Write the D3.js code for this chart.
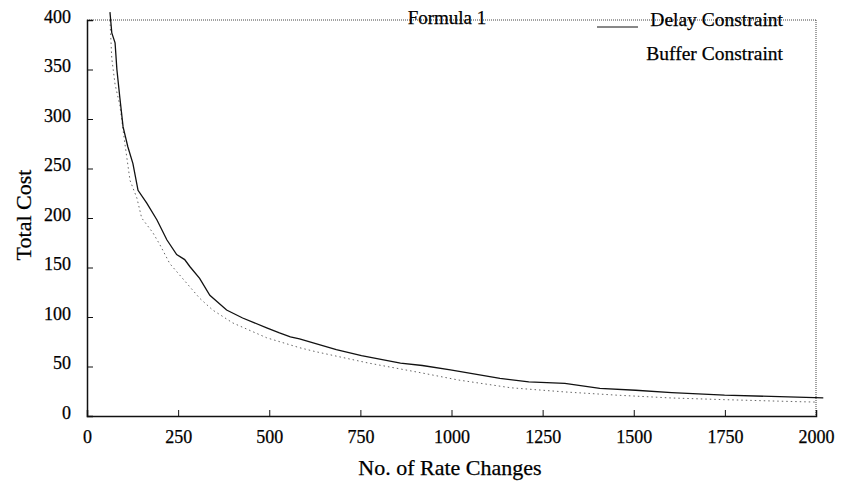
<!DOCTYPE html>
<html><head><meta charset="utf-8">
<script src="https://cdn.jsdelivr.net/npm/d3@7"></script>
<style>body{margin:0;background:#fff}svg{display:block}text{font-family:"Liberation Serif","Times New Roman",serif;fill:#000;stroke:#000;stroke-width:0.25px}</style>
</head><body><svg id="c" width="841" height="485"></svg>
<script>
const xTicks=[0,250,500,750,1000,1250,1500,1750,2000];
const yTicks=[0,50,100,150,200,250,300,350,400];
const delayX=[63,68,77,82,90,99,112,126,140,164,192,219,246,268,282,309,337,383,427,493,528,558,583,684,753,860,920,997,1133,1212,1311,1407,1505,1604,1749,1996,2020];
const delayY=[408,387,377,350,322,292,272,255,228,215,198,178,163,158,151,139,122,107,99,89,84,80,78,67,61,53.5,51,46.5,38,34.5,33,28,26,23.6,21,18.6,18.4];
const bufferX=[63,68,77,90,104,118,137,150,181,200,227,309,345,400,493,583,627,772,920,1018,1163,1311,1456,1604,1749,1897,2004];
const bufferY=[400,361,335,314,275,238,220,200,185,173,154,119,107,94,79,69,65,53.5,43.4,36.4,28.5,24.3,21,18.2,16.5,15,14];

const svg=d3.select("#c");
const L=87,R=816,T=20,B=416;
const x=d3.scaleLinear().domain([0,2000]).range([L,R]);
const y=d3.scaleLinear().domain([0,400]).range([B,T]);

svg.append("line").attr("x1",L).attr("x2",R).attr("y1",T).attr("y2",T).attr("stroke","#444").attr("stroke-width",1).attr("stroke-dasharray","1,1");
svg.append("line").attr("x1",R).attr("x2",R).attr("y1",T).attr("y2",B).attr("stroke","#444").attr("stroke-width",1).attr("stroke-dasharray","1,1");

const ax=svg.append("g").attr("transform",`translate(0,${B})`).call(d3.axisBottom(x).tickValues(xTicks).tickSize(-6).tickPadding(14).tickFormat(d3.format("d")));
ax.select(".domain").attr("stroke","#111").attr("stroke-width",1.5);
ax.selectAll(".tick line").attr("stroke","#111");
ax.selectAll("text").attr("font-size",18).style("font-family","Liberation Serif");
ax.selectAll(".tick").filter(d=>d===0||d===2000).select("line").remove();

const ay=svg.append("g").attr("transform",`translate(${L},0)`).call(d3.axisLeft(y).tickValues(yTicks).tickSize(-6).tickPadding(16).tickFormat(d3.format("d")));
ay.select(".domain").attr("stroke","#111").attr("stroke-width",1.5);
ay.selectAll(".tick line").attr("stroke","#111");
ay.selectAll("text").attr("font-size",18).attr("dy","0.12em").style("font-family","Liberation Serif");
ay.selectAll(".tick").filter(d=>d===0||d===400).select("line").remove();

const line=d3.line().x(d=>x(d[0])).y(d=>y(d[1]));
svg.append("path").datum(bufferX.map((v,i)=>[v,bufferY[i]])).attr("d",line).attr("fill","none").attr("stroke","#666").attr("stroke-width",1).attr("stroke-dasharray","1.5,3");
svg.append("path").datum(delayX.map((v,i)=>[v,delayY[i]])).attr("d",line).attr("fill","none").attr("stroke","#111").attr("stroke-width",1.3);

svg.append("text").attr("x",447).attr("y",24).attr("text-anchor","middle").attr("font-size",19).text("Formula 1");
svg.append("line").attr("x1",597).attr("x2",638).attr("y1",27).attr("y2",27).attr("stroke","#111").attr("stroke-width",1);
svg.append("text").attr("x",783).attr("y",26).attr("text-anchor","end").attr("font-size",19.5).text("Delay Constraint");
svg.append("text").attr("x",783).attr("y",60).attr("text-anchor","end").attr("font-size",19.5).text("Buffer Constraint");

svg.append("text").attr("x",450).attr("y",475).attr("text-anchor","middle").attr("font-size",22).text("No. of Rate Changes");
svg.append("text").attr("transform","translate(31,215) rotate(-90)").attr("text-anchor","middle").attr("font-size",22).text("Total Cost");
</script></body></html>
